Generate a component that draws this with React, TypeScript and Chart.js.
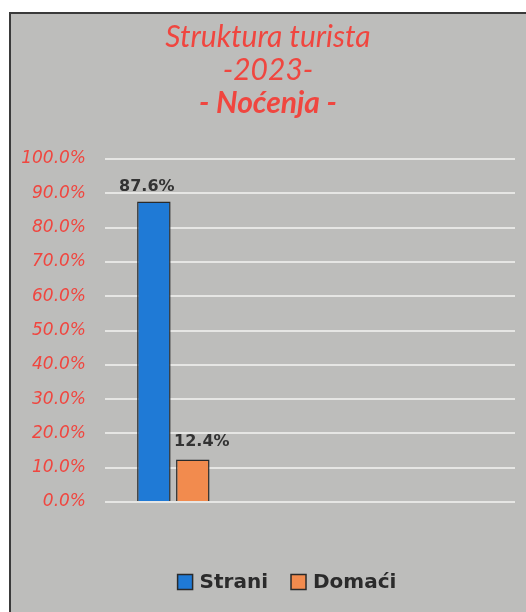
import React, { useEffect, useRef } from "react";
import { Chart, registerables } from "chart.js";

Chart.register(...registerables);

const categories = ["", "", ""];
const seriesNames = ["Strani", "Domaći"];
const straniValues = [87.6];
const domaciValues = [12.4];
const titleLines = ["Struktura turista", "-2023-"];
const subtitleText = "- Noćenja -";

const RED = "#f0463f";
const SERIES_COLORS = ["#1f7ad6", "#f28b4e"];

const valueLabels = {
  id: "valueLabels",
  afterDatasetsDraw(chart: any) {
    const ctx = chart.ctx;
    ctx.save();
    ctx.font = "bold 16px 'DejaVu Sans'";
    ctx.fillStyle = "#333333";
    ctx.textAlign = "center";
    ctx.textBaseline = "bottom";
    const offsets = [
      { dx: -7, dy: -7 },
      { dx: 9, dy: -10 },
    ];
    chart.data.datasets.forEach((ds: any, di: number) => {
      const meta = chart.getDatasetMeta(di);
      meta.data.forEach((bar: any, i: number) => {
        const v = ds.data[i];
        if (v == null) return;
        const o = offsets[di] || { dx: 0, dy: -8 };
        ctx.fillText(v.toFixed(1) + "%", bar.x + o.dx, bar.y + o.dy);
      });
    });
    ctx.restore();
  },
};

// Legend drawn manually so it can sit off-centre like the original
const customLegend = {
  id: "customLegend",
  afterDraw(chart: any) {
    const ctx = chart.ctx;
    const centerX = 276;
    const centerY = 568;
    const box = 15;
    const gapBoxText = 7;
    const gapItems = 23;
    ctx.save();
    ctx.font = "bold 20px 'DejaVu Sans'";
    const items = chart.data.datasets.map((ds: any) => ({
      label: ds.label,
      color: ds.backgroundColor,
      w: ctx.measureText(ds.label).width,
    }));
    const total =
      items.reduce((s: number, it: any) => s + box + gapBoxText + it.w, 0) +
      gapItems * (items.length - 1);
    let x = centerX - total / 2;
    ctx.textBaseline = "middle";
    ctx.textAlign = "left";
    items.forEach((it: any) => {
      ctx.fillStyle = it.color;
      ctx.fillRect(x, centerY - box / 2, box, box);
      ctx.strokeStyle = "#2a2a2a";
      ctx.lineWidth = 1.5;
      ctx.strokeRect(x, centerY - box / 2, box, box);
      ctx.fillStyle = "#2b2b2b";
      ctx.fillText(it.label, x + box + gapBoxText, centerY + 1);
      x += box + gapBoxText + it.w + gapItems;
    });
    ctx.restore();
  },
};

export default function App() {
  const ref = useRef<HTMLCanvasElement | null>(null);
  useEffect(() => {
    if (!ref.current) return;
    const chart = new Chart(ref.current, {
      type: "bar",
      data: {
        labels: categories,
        datasets: [
          {
            label: seriesNames[0],
            data: straniValues,
            backgroundColor: SERIES_COLORS[0],
            borderColor: "#2a2a2a",
            borderWidth: 1.5,
            categoryPercentage: 0.57,
            barPercentage: 0.86,
          },
          {
            label: seriesNames[1],
            data: domaciValues,
            backgroundColor: SERIES_COLORS[1],
            borderColor: "#2a2a2a",
            borderWidth: 1.5,
            categoryPercentage: 0.57,
            barPercentage: 0.86,
          },
        ],
      },
      options: {
        animation: false,
        responsive: false,
        layout: { padding: { left: 10, right: 11, top: 0, bottom: 0 } },
        scales: {
          x: {
            grid: { display: false },
            border: { display: false },
            ticks: { display: false },
            afterFit: (s: any) => {
              s.height = 110;
            },
          },
          y: {
            min: 0,
            max: 100,
            ticks: {
              stepSize: 10,
              padding: 19,
              color: RED,
              font: { family: "'DejaVu Sans'", style: "italic", size: 17 },
              callback: (v: any) => Number(v).toFixed(1) + "%",
            },
            grid: { color: "#e6e6e4", lineWidth: 2, drawTicks: false },
            border: { display: false },
            afterFit: (s: any) => {
              s.width = 84;
            },
          },
        },
        plugins: {
          title: {
            display: true,
            text: titleLines,
            color: RED,
            font: { family: "Lato", style: "italic", size: 30, weight: "normal", lineHeight: 1.1 },
            padding: { top: 7, bottom: 0 },
          },
          subtitle: {
            display: true,
            text: subtitleText,
            color: RED,
            font: { family: "Lato", style: "italic", size: 30, weight: "bold", lineHeight: 1.1 },
            padding: { top: 0, bottom: 39 },
          },
          legend: { display: false },
          tooltip: { enabled: false },
        },
      },
      plugins: [valueLabels, customLegend],
    });
    return () => chart.destroy();
  }, []);

  return (
    <div
      style={{
        position: "absolute",
        left: 9,
        top: 12,
        width: 517,
        height: 600,
        background: "#bdbdbb",
        borderLeft: "2px solid #3a3a3a",
        borderTop: "2px solid #3a3a3a",
      }}
    >
      <canvas ref={ref} width={515} height={598} style={{ display: "block" }} />
    </div>
  );
}
